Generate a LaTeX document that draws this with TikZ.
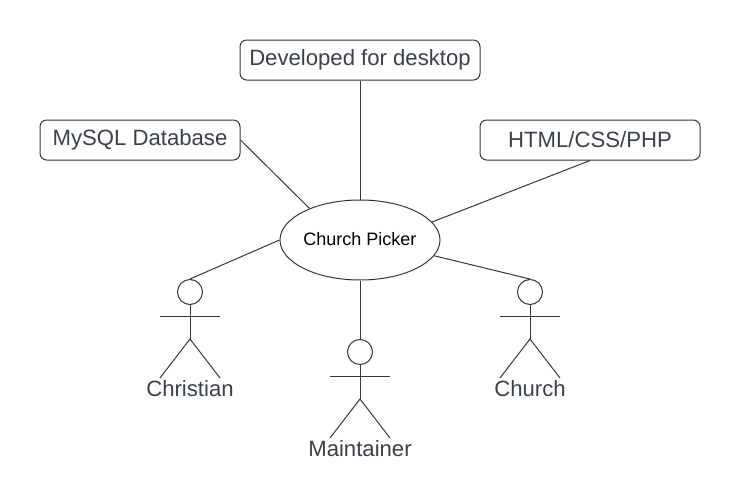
\documentclass[tikz,border=0pt]{standalone}
\usepackage{fontspec}
\usetikzlibrary{shapes.geometric}
\setmainfont{Liberation Sans}
\definecolor{ink}{HTML}{3A414A}
\definecolor{edge}{HTML}{33383F}
\tikzset{
 x=0.75pt,y=-0.75pt,
 lbl/.style={draw=edge,line width=0.75pt,rounded corners=5pt,fill=white,text=ink,font=\fontsize{16.6}{18}\selectfont,inner sep=0pt,minimum height=30pt},
 conn/.style={draw=edge,line width=0.75pt},
 actorname/.style={text=ink,font=\fontsize{16.6}{18}\selectfont,inner sep=0pt},
 head/.style={circle,draw=edge,line width=0.75pt,minimum size=18.75pt,inner sep=0pt}
}
\newcommand{\stickman}[4]{%
 \node[head] (#1) at (#2,#3) {};
 \coordinate (#1b) at (#2,#3+47);
 \coordinate (#1a) at (#2-30,#3+24);
 \coordinate (#1c) at (#2+30,#3+24);
 \coordinate (#1l) at (#2-30,#3+86);
 \coordinate (#1r) at (#2+30,#3+86);
 \draw[conn] (#1.south) -- (#1b);
 \draw[conn] (#1a) -- (#1c);
 \draw[conn] (#1l) -- (#1b) -- (#1r);
 \node[actorname] (#1t) at (#2,#3+97) {#4};
}
\begin{document}
\begin{tikzpicture}
\useasboundingbox (0,0) rectangle (740,500);
\fill[white] (0,0) rectangle (740,500);
\node[draw=edge,line width=0.75pt,ellipse,minimum width=120pt,minimum height=60pt,inner sep=0pt,font=\fontsize{13.5}{15}\selectfont] (hub) at (360,240) {\raisebox{1.2pt}{Church Picker}};
\node[lbl,minimum width=180pt] (dev) at (360,60) {\raisebox{-0.6pt}{Developed for desktop}};
\node[lbl,minimum width=150pt] (mysql) at (140,140) {\raisebox{-0.6pt}{MySQL Database}};
\node[lbl,minimum width=165pt] (html) at (590,140) {\raisebox{-0.6pt}{HTML/CSS/PHP}};
\stickman{christian}{190}{292}{Christian}
\stickman{maintainer}{360}{352}{Maintainer}
\stickman{church}{530}{292}{Church}
\draw[conn] (dev.south) -- (hub.north);
\draw[conn] (mysql.east) -- (hub.148);
\draw[conn] (html.south) -- (hub.14);
\draw[conn] (christian.north) -- (hub.west);
\draw[conn] (maintainer.north) -- (hub.south);
\draw[conn] (church.north) -- (hub.-12);
\end{tikzpicture}
\end{document}
